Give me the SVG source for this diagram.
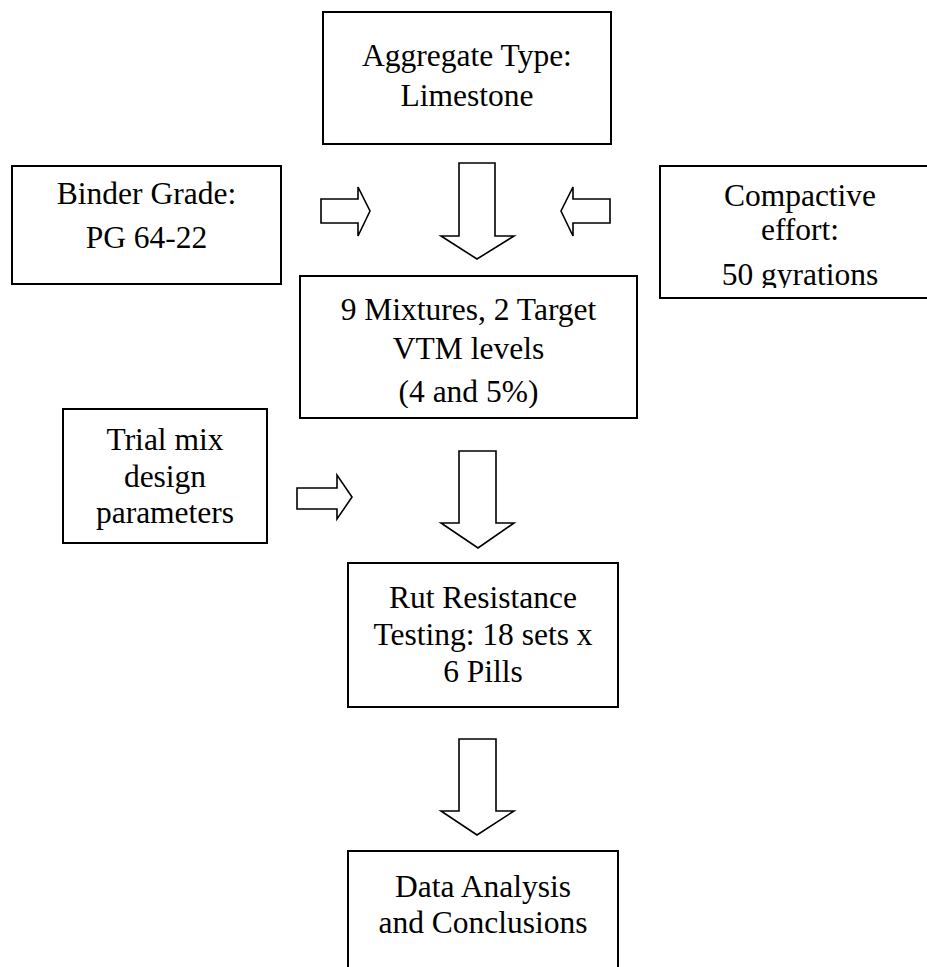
<svg xmlns="http://www.w3.org/2000/svg" width="927" height="967" viewBox="0 0 927 967">
<style>
.box{fill:#fff;stroke:#000;stroke-width:2}
.arr{fill:#fff;stroke:#000;stroke-width:1.6;stroke-linejoin:miter}
text{font-family:"Liberation Serif","Times New Roman",serif;font-size:31.5px;fill:#000;text-anchor:middle}
</style>
<defs>
<clipPath id="clipC"><rect x="660" y="160" width="280" height="128"/></clipPath>
<clipPath id="clipM"><rect x="300" y="276" width="337" height="132"/></clipPath>
</defs>
<rect width="927" height="967" fill="#fff"/>
<g id="connectors">
<polygon class="arr" points="459,163 495,163 495,236 514,236 477,259 441,236 459,236"/>
<polygon class="arr" points="321,199 358,199 358,187 370,211 358,236 358,223 321,223"/>
<polygon class="arr" points="610,199 573,199 573,187 561,211 573,236 573,223 610,223"/>
<polygon class="arr" points="297,488 337,488 337,475 352,497 337,519 337,509 297,509"/>
<polygon class="arr" points="459,451 496,451 496,523 514,523 478,548 441,523 459,523"/>
<polygon class="arr" points="459,739 496,739 496,811 514,811 477,835 441,811 459,811"/>
</g>
<g id="aggregate">
<rect class="box" x="323" y="12" width="288" height="132"/>
<text x="467" y="66">Aggregate Type:</text>
<text x="467" y="106">Limestone</text>
</g>
<g id="binder">
<rect class="box" x="12" y="166" width="269" height="118"/>
<text x="146.5" y="204">Binder Grade:</text>
<text x="146.5" y="248">PG 64-22</text>
</g>
<g id="compactive">
<rect class="box" x="660" y="166" width="280" height="132"/>
<g clip-path="url(#clipC)">
<text x="800" y="206">Compactive</text>
<text x="800" y="240">effort:</text>
<text x="800" y="285">50 gyrations</text>
</g>
</g>
<g id="mixtures">
<rect class="box" x="300" y="276" width="337" height="142"/>
<g clip-path="url(#clipM)">
<text x="468.5" y="320">9 Mixtures, 2 Target</text>
<text x="468.5" y="359">VTM levels</text>
<text x="468.5" y="402">(4 and 5%)</text>
</g>
</g>
<g id="trial">
<rect class="box" x="63" y="409" width="204" height="134"/>
<text x="165" y="450">Trial mix</text>
<text x="165" y="487">design</text>
<text x="165" y="523">parameters</text>
</g>
<g id="rut">
<rect class="box" x="348" y="563" width="270" height="144"/>
<text x="483" y="608">Rut Resistance</text>
<text x="483" y="645">Testing: 18 sets x</text>
<text x="483" y="682">6 Pills</text>
</g>
<g id="analysis">
<rect class="box" x="348" y="851" width="270" height="130"/>
<text x="483" y="897">Data Analysis</text>
<text x="483" y="933">and Conclusions</text>
</g>
</svg>
